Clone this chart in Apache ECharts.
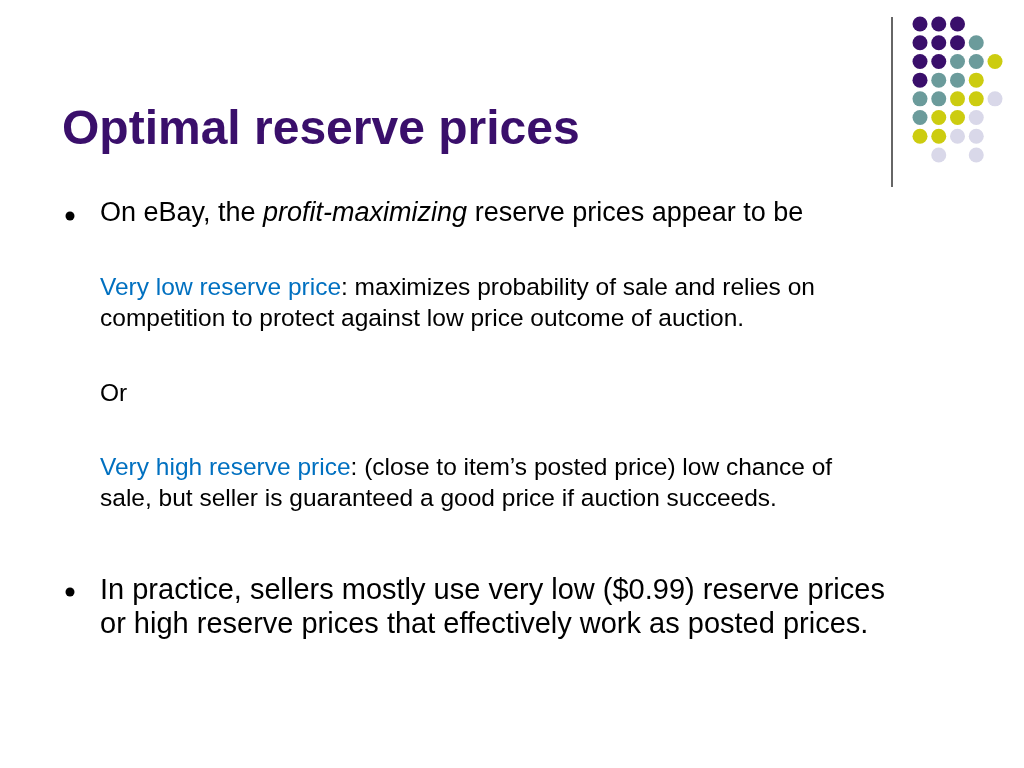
<!DOCTYPE html>
<html><head><meta charset="utf-8">
<script src="https://cdn.jsdelivr.net/npm/echarts@6/dist/echarts.min.js"></script>
<style>html,body{margin:0;padding:0;background:#fff}#c{width:1024px;height:768px}</style>
</head><body><div id="c"></div>
<script>
const dotColors = {P:'#3a0f6b', T:'#6b9b9b', Y:'#cccc10', L:'#d9d8e9'};
const dotRows = ['PPP  ','PPPT ','PPTTY','PTTY ','TTYYL','TYYL ','YYLL ',' L L '];
const dots = [];
dotRows.forEach((r, y) => r.split('').forEach((c, x) => { if (c !== ' ') dots.push({value:[x, y], itemStyle:{color:dotColors[c], opacity:1}}); }));
const FF = 'Liberation Sans';
const blue = '#0070c0';
const st = (text, size, extra) => Object.assign({text, fontFamily:FF, fontSize:size, fill:'#000'}, extra || {});
const chart = echarts.init(document.getElementById('c'));
chart.setOption({
  animation:false,
  grid:{left:920, right:29, top:24, bottom:613},
  xAxis:{type:'value', min:0, max:4, show:false},
  yAxis:{type:'value', min:0, max:7, inverse:true, show:false},
  series:[{type:'scatter', symbolSize:15, data:dots, itemStyle:{opacity:1}}],
  graphic:[
    {type:'line', shape:{x1:892, y1:17, x2:892, y2:187}, style:{stroke:'#333', lineWidth:1.5}},
    {type:'text', left:62, top:107, style:st('Optimal reserve prices', 48, {fontWeight:'bold', fill:'#3a0f6b'})},
    {type:'circle', shape:{cx:70, cy:216, r:4.5}, style:{fill:'#000'}},
    {type:'circle', shape:{cx:70, cy:592, r:4.5}, style:{fill:'#000'}},
    {type:'text', left:100, top:200, style:st('On eBay, the {i|profit-maximizing} reserve prices appear to be', 27, {rich:{i:{fontFamily:FF, fontSize:27, fontStyle:'italic', fill:'#000'}}})},
    {type:'text', left:100, top:273, style:st('{b|Very low reserve price}: maximizes probability of sale and relies on\ncompetition to protect against low price outcome of auction.', 24.5, {lineHeight:31, rich:{b:{fontFamily:FF, fontSize:24.5, fill:blue}}})},
    {type:'text', left:100, top:382, style:st('Or', 24.5)},
    {type:'text', left:100, top:453, style:st('{b|Very high reserve price}: (close to item\u2019s posted price) low chance of\nsale, but seller is guaranteed a good price if auction succeeds.', 24.5, {lineHeight:31, rich:{b:{fontFamily:FF, fontSize:24.5, fill:blue}}})},
    {type:'text', left:100, top:574, style:st('In practice, sellers mostly use very low ($0.99) reserve prices\nor high reserve prices that effectively work as posted prices.', 29, {lineHeight:34})}
  ]
});
</script></body></html>
